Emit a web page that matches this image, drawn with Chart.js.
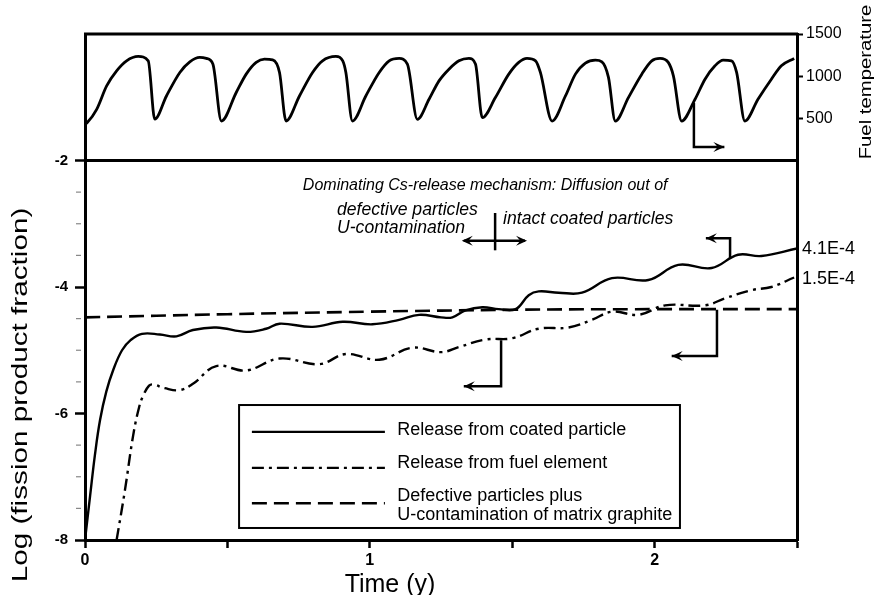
<!DOCTYPE html>
<html><head><meta charset="utf-8">
<script src="https://cdn.jsdelivr.net/npm/chart.js@4/dist/chart.umd.min.js"></script>
<style>html,body{margin:0;padding:0;background:#fff;}#wrap{width:875px;height:595px;position:relative;}</style>
</head><body><div id="wrap"><canvas id="c" width="875" height="595"></canvas></div>
<script>
// ---------- data ----------
const tempTime = [0,0.008,0.041,0.076,0.111,0.146,0.187,0.222,0.245,
  0.286,0.333,0.368,0.403,0.426,0.449,0.479,
  0.531,0.566,0.601,0.630,0.659,0.683,0.706,
  0.753,0.799,0.834,0.881,0.905,0.916,0.939,
  0.986,1.033,1.068,1.103,1.132,1.167,
  1.208,1.243,1.278,1.313,1.348,1.371,1.395,
  1.441,1.488,1.523,1.552,1.582,1.599,1.640,
  1.687,1.722,1.757,1.792,1.815,1.838,1.862,
  1.908,1.955,1.990,2.019,2.048,2.066,2.095,
  2.142,2.177,2.212,2.241,2.270,2.288,2.317,
  2.363,2.410,2.445,2.490];
const tempValues = [430,450,607,885,1063,1182,1234,1182,490,
  765,1044,1170,1222,1210,1143,468,
  806,1024,1163,1202,1194,1044,468,
  765,1044,1182,1234,1182,1044,468,
  765,1044,1182,1210,1143,488,
  726,944,1083,1182,1210,1143,508,
  746,1024,1163,1210,1182,1044,468,
  765,1024,1155,1190,1170,985,468,
  746,1024,1182,1210,1163,1004,468,
  726,964,1123,1190,1182,1044,468,
  726,964,1123,1210];

const coatedTime = [0,0.018,0.035,0.053,0.075,0.1,0.13,0.16,0.2,0.263,0.321,0.379,0.461,0.566,0.636,0.683,0.799,0.905,1.009,1.103,1.173,1.25,1.29,1.336,1.395,1.453,1.512,1.558,1.593,1.663,1.745,1.850,1.978,2.083,2.200,2.293,2.375,2.5];
const coatedLog = [-8,-7.3,-6.65,-6.1,-5.65,-5.3,-5.0,-4.84,-4.74,-4.75,-4.78,-4.68,-4.64,-4.71,-4.66,-4.58,-4.63,-4.55,-4.59,-4.52,-4.44,-4.48,-4.48,-4.37,-4.32,-4.35,-4.35,-4.13,-4.07,-4.09,-4.09,-3.86,-3.89,-3.65,-3.70,-3.49,-3.51,-3.39];

const fuelTime = [0.111,0.14,0.169,0.19,0.206,0.225,0.239,0.28,0.333,0.379,0.461,0.566,0.683,0.823,0.916,1.033,1.15,1.25,1.313,1.406,1.5,1.593,1.698,1.78,1.85,1.943,2.037,2.177,2.247,2.34,2.41,2.49];
const fuelLog = [-8,-7.22,-6.35,-5.9,-5.7,-5.56,-5.54,-5.6,-5.63,-5.53,-5.25,-5.32,-5.13,-5.22,-5.06,-5.15,-4.96,-5.03,-4.95,-4.83,-4.81,-4.66,-4.64,-4.52,-4.39,-4.44,-4.29,-4.29,-4.18,-4.05,-4.0,-3.85];

const defectTime = [0,0.5,1.0,1.5,2.0,2.5];
const defectLog = [-4.48,-4.43,-4.39,-4.36,-4.35,-4.35];

const xTicks = [0,0.5,1,1.5,2,2.5];
const xTickLabels = ['0','','1','','2',''];
const yMajorTicks = [-8,-6,-4,-2];
const yMinorTicks = [-7.5,-7,-6.5,-5.5,-5,-4.5,-3.5,-3,-2.5];
const tempTicks = [500,1000,1500];
const seriesLabels = ['Release from coated particle','Release from fuel element','Defective particles plus','U-contamination of matrix graphite'];
const endLabels = ['4.1E-4','1.5E-4'];
const xTitle = 'Time (y)';
const yTitle = 'Log (fission product fraction)';
const tempTitle = 'Fuel temperature';
const noteLines = ['Dominating Cs-release mechanism: Diffusion out of','defective particles','U-contamination','intact coated particles'];

// ---------- chart ----------
const FF = 'Liberation Sans, Arial, Helvetica, sans-serif';
Chart.defaults.font.family = FF;
Chart.defaults.color = '#000';
const pts = (xs, ys) => xs.map((x,i)=>({x:x,y:ys[i]}));

const annot = {
  id:'annot',
  afterDraw(chart){
    const ctx = chart.ctx, a = chart.chartArea;
    const X = chart.scales.x, Y = chart.scales.y, T = chart.scales.yT;
    const px = v=>X.getPixelForValue(v), py = v=>Y.getPixelForValue(v), pt = v=>T.getPixelForValue(v);
    ctx.save();
    ctx.strokeStyle='#000'; ctx.fillStyle='#000'; ctx.lineCap='butt';
    ctx.lineWidth=3;
    ctx.beginPath(); ctx.moveTo(a.left-1,a.top); ctx.lineTo(a.right+1,a.top); ctx.stroke();
    ctx.beginPath(); ctx.moveTo(a.left,py(-2)); ctx.lineTo(a.right,py(-2)); ctx.stroke();
    ctx.lineWidth=1.2; ctx.strokeStyle='#888';
    yMinorTicks.forEach(v=>{ctx.beginPath(); ctx.moveTo(a.left-9,py(v)); ctx.lineTo(a.left-4,py(v)); ctx.stroke();});
    ctx.strokeStyle='#000';
    function head(x,y,dx,dy){
      const L=11,W=5; const nx=-dy, ny=dx;
      ctx.beginPath(); ctx.moveTo(x,y);
      ctx.lineTo(x-dx*L+nx*W, y-dy*L+ny*W);
      ctx.lineTo(x-dx*L*0.6, y-dy*L*0.6);
      ctx.lineTo(x-dx*L-nx*W, y-dy*L-ny*W);
      ctx.closePath(); ctx.fill();
    }
    function elbow(x0,y0,x1,y1,x2){
      ctx.lineWidth=2.5;
      ctx.beginPath(); ctx.moveTo(x0,y0); ctx.lineTo(x0,y1); ctx.lineTo(x2,y1); ctx.stroke();
      head(x2,y1,x2>x0?1:-1,0);
    }
    elbow(px(2.138),pt(682),0,pt(160),px(2.245));
    elbow(px(2.265),py(-3.54),0,py(-3.23),px(2.18));
    elbow(px(2.219),py(-4.36),0,py(-5.09),px(2.06));
    elbow(px(1.461),py(-4.84),0,py(-5.57),px(1.33));
    ctx.lineWidth=2.5;
    ctx.beginPath(); ctx.moveTo(px(1.44),py(-2.83)); ctx.lineTo(px(1.44),py(-3.42)); ctx.stroke();
    ctx.beginPath(); ctx.moveTo(px(1.33),py(-3.27)); ctx.lineTo(px(1.545),py(-3.27)); ctx.stroke();
    head(px(1.323),py(-3.27),-1,0); head(px(1.552),py(-3.27),1,0);
    ctx.textBaseline='middle'; ctx.textAlign='left';
    ctx.font='italic 16px '+FF;
    ctx.fillText(noteLines[0], px(0.765), py(-2.40));
    ctx.font='italic 17.6px '+FF;
    ctx.fillText(noteLines[1], px(0.885), py(-2.78));
    ctx.fillText(noteLines[2], px(0.885), py(-3.07));
    ctx.fillText(noteLines[3], px(1.468), py(-2.92));
    ctx.font='18px '+FF;
    ctx.fillText(endLabels[0], a.right+5, py(-3.40));
    ctx.fillText(endLabels[1], a.right+5, py(-3.87));
    const lx0=px(0.541), lx1=px(2.089), ly0=py(-5.866), ly1=py(-7.81);
    ctx.fillStyle='#fff'; ctx.fillRect(lx0,ly0,lx1-lx0,ly1-ly0); ctx.fillStyle='#000';
    ctx.lineWidth=2; ctx.strokeRect(lx0,ly0,lx1-lx0,ly1-ly0);
    const ds = chart.data.datasets;
    const rows=[[1,-6.29],[2,-6.86],[3,-7.42]];
    rows.forEach(r=>{
      const d=ds[r[0]];
      ctx.lineWidth=d.borderWidth; ctx.setLineDash(d.borderDash||[]);
      ctx.beginPath(); ctx.moveTo(px(0.586),py(r[1])); ctx.lineTo(px(1.053),py(r[1])); ctx.stroke();
    });
    ctx.setLineDash([]);
    ctx.font='18px '+FF; ctx.textBaseline='middle';
    ctx.fillText(seriesLabels[0], px(1.096), py(-6.26));
    ctx.fillText(seriesLabels[1], px(1.096), py(-6.78));
    ctx.fillText(seriesLabels[2], px(1.096), py(-7.30));
    ctx.fillText(seriesLabels[3], px(1.096), py(-7.60));
    ctx.font='25px '+FF; ctx.textAlign='center'; ctx.textBaseline='alphabetic';
    ctx.fillText(xTitle, 390, 592);
    function vtext(str,x,y,font,sx){
      ctx.save(); ctx.translate(x,y); ctx.rotate(-Math.PI/2); ctx.scale(sx,1);
      ctx.font=font; ctx.textAlign='center'; ctx.textBaseline='alphabetic';
      ctx.fillText(str,0,0); ctx.restore();
    }
    vtext(yTitle, 27, 395, '22px '+FF, 1.35);
    vtext(tempTitle, 871, 82, '16px '+FF, 1.27);
    ctx.restore();
  }
};

new Chart(document.getElementById('c'), {
  type:'line',
  data:{datasets:[
    {label:'temp', data:pts(tempTime,tempValues), yAxisID:'yT', borderColor:'#000', borderWidth:2.8, pointRadius:0, cubicInterpolationMode:'monotone', fill:false},
    {label:seriesLabels[0], data:pts(coatedTime,coatedLog), yAxisID:'y', borderColor:'#000', borderWidth:2.4, pointRadius:0, tension:0.4, fill:false},
    {label:seriesLabels[1], data:pts(fuelTime,fuelLog), yAxisID:'y', borderColor:'#000', borderWidth:2.4, borderDash:[12,5,3,5], pointRadius:0, tension:0.4, fill:false},
    {label:seriesLabels[2], data:pts(defectTime,defectLog), yAxisID:'y', borderColor:'#000', borderWidth:2.6, borderDash:[15,7], pointRadius:0, tension:0.4, fill:false}
  ]},
  options:{
    responsive:false, animation:false, devicePixelRatio:1,
    layout:{padding:{top:34,left:0,right:0,bottom:0}},
    plugins:{legend:{display:false}, tooltip:{enabled:false}},
    scales:{
      x:{type:'linear', min:0, max:2.5, position:'bottom',
        afterBuildTicks:s=>{s.ticks=xTicks.map(v=>({value:v}));},
        afterFit:s=>{s.height=55;},
        ticks:{autoSkip:false, maxRotation:0, padding:3, font:{size:16,weight:'bold'}, color:'#000',
          callback:v=>xTickLabels[xTicks.indexOf(v)]},
        grid:{drawOnChartArea:false, drawTicks:true, tickLength:8, tickWidth:2.5, tickColor:'#000'},
        border:{display:true, color:'#000', width:3}},
      y:{type:'linear', min:-8, max:0, position:'left',
        afterBuildTicks:s=>{s.ticks=yMajorTicks.map(v=>({value:v}));},
        afterFit:s=>{s.width=85;},
        ticks:{padding:7, font:{size:15,weight:'bold'}, color:'#000', callback:v=>String(v)},
        grid:{drawOnChartArea:false, drawTicks:true, tickLength:10, tickWidth:2.5, tickColor:'#000'},
        border:{display:true, color:'#000', width:3}},
      yT:{type:'linear', min:-4500, max:1500, position:'right',
        afterBuildTicks:s=>{s.ticks=tempTicks.map(v=>({value:v}));},
        afterFit:s=>{s.width=78;},
        ticks:{padding:3, font:{size:16}, color:'#000', callback:v=>String(v)},
        grid:{drawOnChartArea:false, drawTicks:true, tickLength:6, tickWidth:2, tickColor:'#000'},
        border:{display:true, color:'#000', width:3}}
    }
  },
  plugins:[annot]
});
</script></body></html>
